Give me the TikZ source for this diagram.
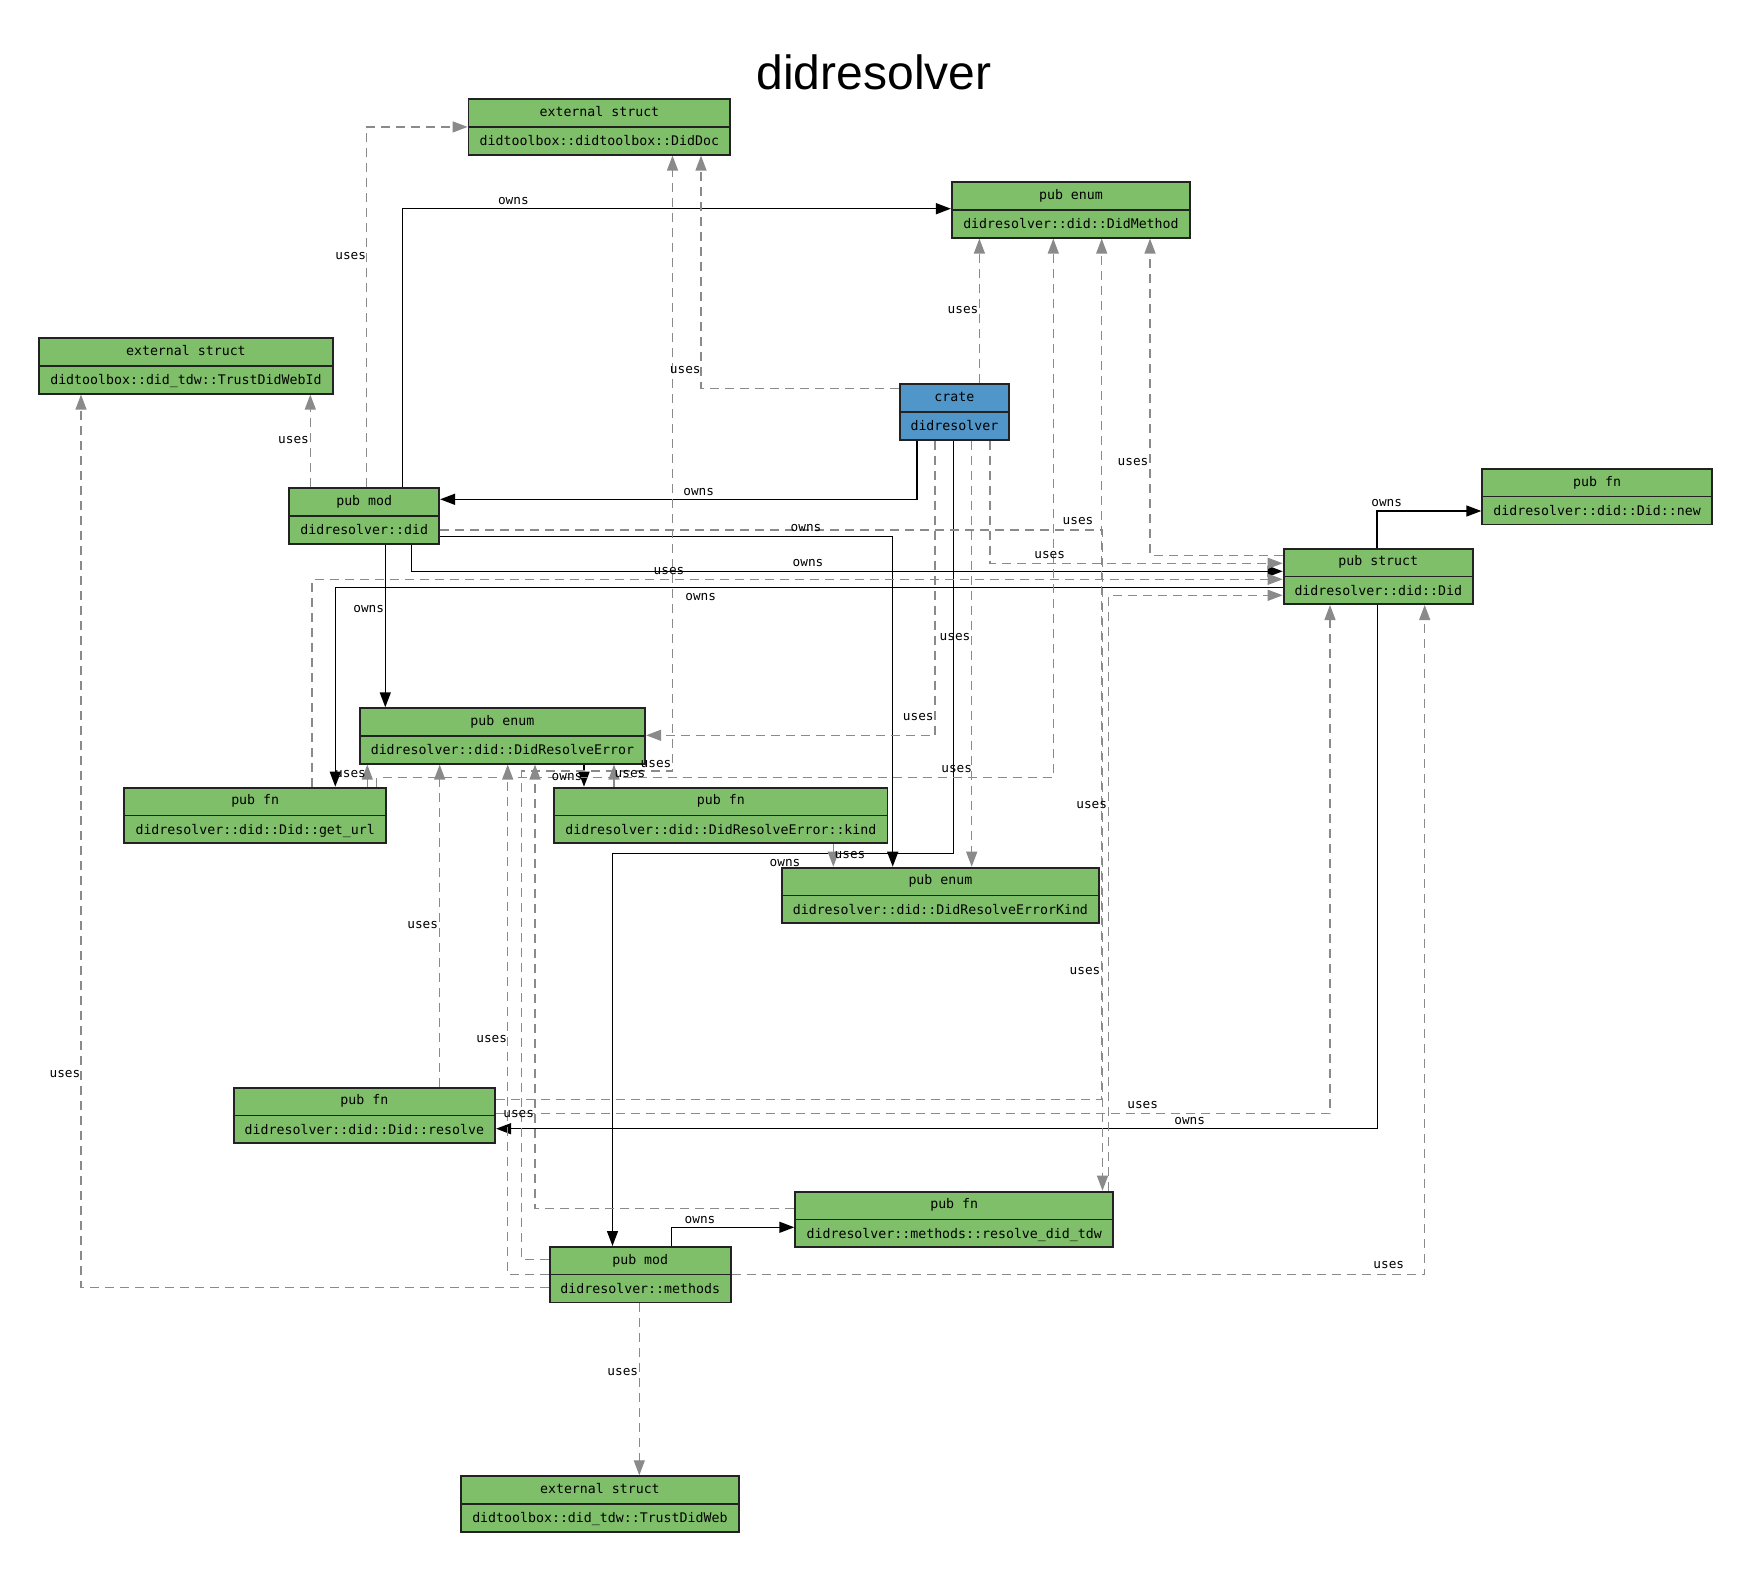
\documentclass[tikz,border=0pt]{standalone}
\usepackage{fontspec}
\newfontfamily\monof{DejaVu Sans Mono}
\newfontfamily\titlef{Liberation Sans}
\usetikzlibrary{arrows.meta}
\definecolor{boxgreen}{RGB}{127,191,106}
\definecolor{boxblue}{RGB}{80,150,200}
\definecolor{edgegray}{RGB}{138,138,138}
\definecolor{bordercol}{RGB}{34,34,34}
\pgfdeclarelayer{edgelayer}
\pgfsetlayers{edgelayer,main}
\tikzset{
  boxshape/.style={draw=bordercol, line width=1.8pt, rectangle, inner sep=0pt, minimum height=55.5pt},
  boxdiv/.style={draw=bordercol, line width=1.6pt},
  boxtext/.style={font=\monof\fontsize{13.25pt}{15pt}\selectfont, inner sep=0pt, anchor=mid, text=black},
  elabel/.style={font=\monof\fontsize{12.75pt}{15pt}\selectfont, inner sep=0pt, anchor=mid, text=black, yshift=-2.5pt},
  owns/.style={draw=black, line width=1.4pt, -{Triangle[length=15pt,width=11pt]}},
  uses/.style={draw=edgegray, line width=1.25pt, dash pattern=on 9pt off 6pt, -{Triangle[length=15pt,width=11pt,fill=edgegray]}},
}
\newcommand{\umlbox}[7]{%
  \node[boxshape, fill=#7, minimum width=#4pt, anchor=north west] (#1) at (#2,#3) {};
  \draw[boxdiv] (#1.west) -- (#1.east);
  \node[boxtext] at ([yshift=-16pt]#1.north) {#5};
  \node[boxtext] at ([yshift=11.8pt]#1.south) {#6};
}
\begin{document}
\begin{tikzpicture}[x=1pt, y=-1pt]
\useasboundingbox (0,0) rectangle (1749,1570);

\node[font=\titlef\fontsize{48pt}{56pt}\selectfont, anchor=base, inner sep=0pt] (title) at (874,89.3) {didresolver};

% boxes
\umlbox{DidDoc}{467.6}{98.3}{261.8}{external struct}{didtoolbox::didtoolbox::DidDoc}{boxgreen}
\umlbox{DidMethod}{950.9}{181.3}{238.3}{pub enum}{didresolver::did::DidMethod}{boxgreen}
\umlbox{TWId}{38}{337.3}{294}{external struct}{didtoolbox::did\_tdw::TrustDidWebId}{boxgreen}
\umlbox{crate}{898.7}{383.3}{109.6}{crate}{didresolver}{boxblue}
\umlbox{new}{1481.3}{468}{229.7}{pub fn}{didresolver::did::Did::new}{boxgreen}
\umlbox{did}{288.3}{487.3}{150}{pub mod}{didresolver::did}{boxgreen}
\umlbox{Did}{1282.7}{547.7}{189.3}{pub struct}{didresolver::did::Did}{boxgreen}
\umlbox{DRE}{358.7}{707.3}{285.6}{pub enum}{didresolver::did::DidResolveError}{boxgreen}
\umlbox{geturl}{123.3}{786.7}{262}{pub fn}{didresolver::did::Did::get\_url}{boxgreen}
\umlbox{kind}{553.3}{786.7}{333.3}{pub fn}{didresolver::did::DidResolveError::kind}{boxgreen}
\umlbox{DREK}{780.7}{866.7}{317.6}{pub enum}{didresolver::did::DidResolveErrorKind}{boxgreen}
\umlbox{resolve}{232.7}{1086.7}{261.6}{pub fn}{didresolver::did::Did::resolve}{boxgreen}
\umlbox{tdw}{794.3}{1190.7}{318}{pub fn}{didresolver::methods::resolve\_did\_tdw}{boxgreen}
\umlbox{methods}{548.7}{1246}{181.3}{pub mod}{didresolver::methods}{boxgreen}
\umlbox{TW}{460}{1475.3}{278}{external struct}{didtoolbox::did\_tdw::TrustDidWeb}{boxgreen}

\begin{pgfonlayer}{edgelayer}
\fill[white] (0,0) rectangle (1749,1570);
% owns
\draw[owns] ([xshift=18.3pt]crate.south west) |- ([yshift=-12pt]did.north east);
\draw[owns] ([xshift=54.6pt]crate.south west) -- (953.3,853.7) -| ([xshift=63.8pt]methods.north west);
\draw[owns] ([xshift=114pt]did.north west) |- ([yshift=-27.4pt]DidMethod.north west);
\draw[owns] ([xshift=123.4pt]did.south west) |- ([yshift=-23.6pt]Did.north west);
\draw[owns] ([xshift=97pt]did.south west) -- ([xshift=26.6pt]DRE.north west);
\draw[owns] ([yshift=-49.4pt]did.north east) -| ([xshift=112pt]DREK.north west);
\draw[owns] ([xshift=94.3pt]Did.north west) |- ([yshift=-43pt]new.north west);
\draw[owns] ([yshift=-39.6pt]Did.north west) -| ([xshift=212pt]geturl.north west);
\draw[owns] ([xshift=94.6pt]Did.south west) |- ([yshift=-42pt]resolve.north east);
\draw[owns] ([xshift=225.3pt]DRE.south west) -- ([xshift=30.7pt]kind.north west);
\draw[owns] ([xshift=122.6pt]methods.north west) |- ([yshift=-36.6pt]tdw.north west);
% uses
\draw[uses] ([xshift=78.3pt]did.north west) |- (DidDoc.west);
\draw[uses] ([xshift=22pt]did.north west) -- ([xshift=272.3pt]TWId.south west);
\draw[uses] ([yshift=-5pt]crate.north west) -| ([xshift=233.4pt]DidDoc.south west);
\draw[uses] ([xshift=80.7pt]crate.north west) -- ([xshift=28.5pt]DidMethod.south west);
\draw[uses] ([xshift=36.3pt]crate.south west) |- ([yshift=-28pt]DRE.north east);
\draw[uses] ([xshift=73pt]crate.south west) -- ([xshift=191pt]DREK.north west);
\draw[uses] ([xshift=91.3pt]crate.south west) |- ([yshift=-15.6pt]Did.north west);
\draw[uses] ([xshift=188.7pt]geturl.north west) |- ([yshift=-31.6pt]Did.north west);
\draw[uses] ([xshift=253.4pt]geturl.north west) -- (376.7,777.7) -| ([xshift=102.4pt]DidMethod.south west);
\draw[uses] ([xshift=244pt]geturl.north west) -- ([xshift=8.6pt]DRE.south west);
\draw[uses] ([xshift=60.7pt]kind.north west) -- ([xshift=255.3pt]DRE.south west);
\draw[uses] ([xshift=280pt]kind.south west) -- ([xshift=52.6pt]DREK.north west);
\draw[uses] ([yshift=-7.6pt]Did.north west) -| ([xshift=199.1pt]DidMethod.south west);
\draw[uses] ([xshift=207pt]resolve.north west) -- ([xshift=81pt]DRE.south west);
\draw[uses] ([yshift=-27pt]resolve.north east) -| ([xshift=47.3pt]Did.south west);
\draw[uses] ([yshift=-12.6pt]resolve.north east) -| ([xshift=150.8pt]DidMethod.south west);
\draw[uses] ([yshift=-13.3pt]methods.north west) -| (521.5,771) -| ([xshift=204.9pt]DidDoc.south west);
\draw[uses] ([yshift=-41.3pt]methods.north west) -| ([xshift=43pt]TWId.south west);
\draw[uses] (methods.west) -| ([xshift=149pt]DRE.south west);
\draw[uses] (methods.east) -| ([xshift=142pt]Did.south west);
\draw[uses] ([xshift=90.6pt]methods.south west) -- ([xshift=179.3pt]TW.north west);
\draw[uses] ([yshift=-18pt]tdw.north west) -| ([xshift=176.3pt]DRE.south west);
\draw[uses] ([xshift=314pt]tdw.north west) |- ([yshift=-47.6pt]Did.north west);
\draw[uses] ([yshift=-42.7pt]did.north east) -| ([xshift=308.2pt]tdw.north west);
\end{pgfonlayer}

% edge labels
\node[elabel] (l1) at (698.7,490.7) {owns};
\node[elabel] (l2) at (785,861.7) {owns};
\node[elabel] (l3) at (513.4,200) {owns};
\node[elabel] (l4) at (808,562) {owns};
\node[elabel] (l5) at (368.7,608.3) {owns};
\node[elabel] (l6) at (806,527) {owns};
\node[elabel] (l7) at (1386.7,502.3) {owns};
\node[elabel] (l8) at (700.7,595.7) {owns};
\node[elabel] (l9) at (1189.7,1119.7) {owns};
\node[elabel] (l10) at (567,775.7) {owns};
\node[elabel] (l11) at (700,1219) {owns};
\node[elabel] (m1) at (350.7,255) {uses};
\node[elabel] (m2) at (293.5,438.7) {uses};
\node[elabel] (m3) at (685.3,369) {uses};
\node[elabel] (m4) at (963,308.7) {uses};
\node[elabel] (m5) at (918.3,715.7) {uses};
\node[elabel] (m6) at (955,635.7) {uses};
\node[elabel] (m7) at (1049.7,554.3) {uses};
\node[elabel] (m8) at (669,570) {uses};
\node[elabel] (m9) at (956.7,768.3) {uses};
\node[elabel] (m10) at (350.5,773.3) {uses};
\node[elabel] (m11) at (630,773.3) {uses};
\node[elabel] (m12) at (850,854.3) {uses};
\node[elabel] (m13) at (1133,461) {uses};
\node[elabel] (m14) at (422.7,923.7) {uses};
\node[elabel] (m15) at (1142.7,1104.3) {uses};
\node[elabel] (m16) at (1085,970.3) {uses};
\node[elabel] (m17) at (656,762.7) {uses};
\node[elabel] (m18) at (65,1072.7) {uses};
\node[elabel] (m19) at (491.7,1037.7) {uses};
\node[elabel] (m20) at (1388.8,1264.3) {uses};
\node[elabel] (m21) at (622.8,1371.3) {uses};
\node[elabel] (m22) at (518.7,1113.3) {uses};
\node[elabel] (m23) at (1091.7,804.3) {uses};
\node[elabel] (m24) at (1078,520.3) {uses};
\end{tikzpicture}
\end{document}
